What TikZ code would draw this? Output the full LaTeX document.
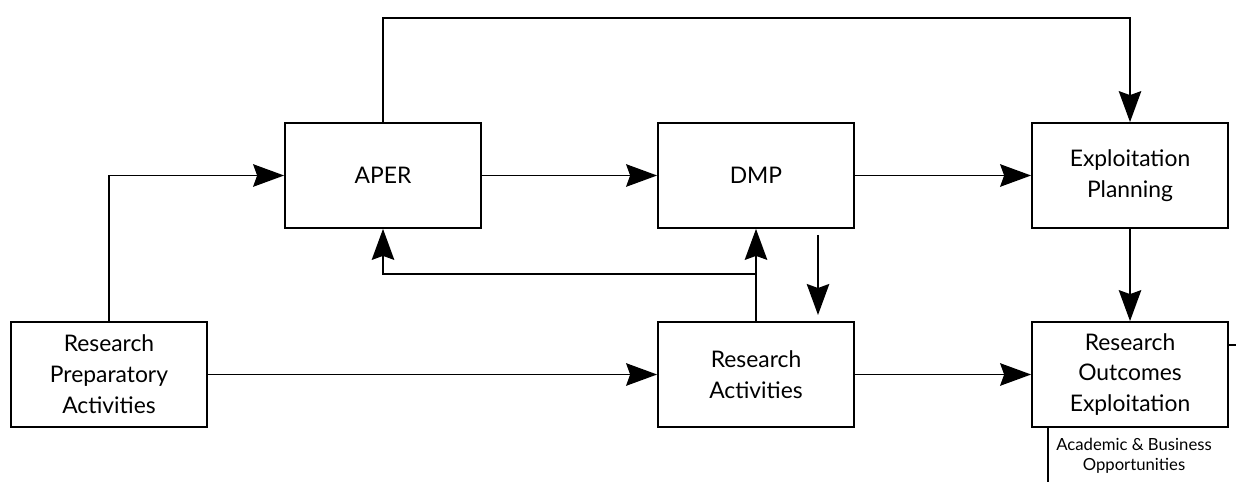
\documentclass[tikz,border=0pt]{standalone}
\usepackage{fontspec}
\setmainfont{Lato}
\usetikzlibrary{arrows.meta,calc,positioning}
\newcommand{\boxw}{3.92cm}
\newcommand{\boxh}{2.1cm}
\tikzset{
    blksty/.style={draw,fill=white,rectangle,minimum width=\boxw,minimum height=\boxh,align=center,font=\fontsize{13}{17.6}\selectfont,line width=1pt},
    arrsty/.style={-{Stealth[length=0.62cm,width=0.45cm,inset=0.08cm]},line width=1pt},
    linsty/.style={line width=1pt},
    notesty/.style={align=center,font=\fontsize{9.5}{11.3}\selectfont},
}

\begin{document}
\begin{tikzpicture}
  \useasboundingbox (0,0) rectangle (24.72,9.64);

  % blocks
  \node[blksty] (rpa)  at (2.18,2.15)  {Research\\Preparatory\\Activities};
  \node[blksty] (aper) at (7.66,6.13)  {APER};
  \node[blksty] (dmp)  at (15.12,6.13) {DMP};
  \node[blksty] (ep)   at (22.6,6.13)  {Exploitation\\Planning};
  \node[blksty] (ra)   at (15.12,2.15) {Research\\Activities};
  \node[blksty] (roe)  at (22.6,2.15)  {Research\\Outcomes\\Exploitation};

  % free ends
  \coordinate (top) at (0,9.28);
  \coordinate (mid) at (0,4.16);
  \coordinate (fa) at (16.36,4.94);
  \coordinate (fb) at (16.36,3.34);
  \coordinate (rr) at (24.72,2.74);
  \coordinate (bb) at (20.96,0);

  % connectors
  \draw[arrsty] (rpa.north) |- (aper.west);
  \draw[arrsty] (rpa.east) -- (ra.west);
  \draw[arrsty] (aper.east) -- (dmp.west);
  \draw[arrsty] (dmp.east) -- (ep.west);
  \draw[arrsty] (aper.north) -- (aper.north |- top) -| (ep.north);
  \draw[arrsty] (ep.south) -- (roe.north);
  \draw[arrsty] (ra.east) -- (roe.west);
  \draw[arrsty] (ra.north) -- (dmp.south);
  \draw[arrsty] (ra.north |- mid) -| (aper.south);
  \draw[arrsty] (fa) -- (fb);
  \draw[linsty] (roe.east |- rr) -- (rr);
  \draw[linsty] (bb |- roe.south) -- (bb);

  \node[notesty] (abo) at (22.68,0.52) {Academic \& Business\\Opportunities};
\end{tikzpicture}
\end{document}
